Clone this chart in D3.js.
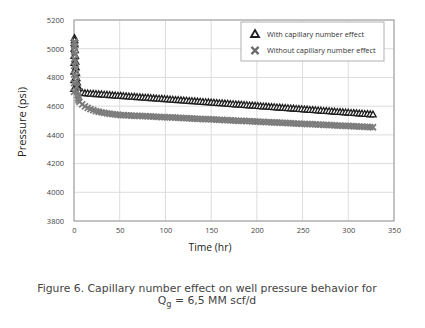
<!DOCTYPE html>
<html>
<head>
<meta charset="utf-8">
<script src="https://cdn.jsdelivr.net/npm/d3@7"></script>
<style>
  body { margin: 0; background: #fff; }
  svg { display: block; }
</style>
</head>
<body>
<svg></svg>
<script>

// data

const timeHr = [
  0, 0.05, 0.1, 0.15, 0.2, 0.3, 0.4, 0.5, 0.7, 0.9, 1.2, 1.5, 1.8, 2.2, 2.6, 3.0, 3.5, 4.0, 4.5, 5.0,
  6, 9, 12, 15, 18, 21, 24, 27, 30, 33, 36, 39, 42, 45, 48, 51, 54, 57, 60, 63, 66, 69, 72, 75, 78,
  81, 84, 87, 90, 93, 96, 99, 102, 105, 108, 111, 114, 117, 120, 123, 126, 129, 132, 135, 138, 141,
  144, 147, 150, 153, 156, 159, 162, 165, 168, 171, 174, 177, 180, 183, 186, 189, 192, 195, 198, 201,
  204, 207, 210, 213, 216, 219, 222, 225, 228, 231, 234, 237, 240, 243, 246, 249, 252, 255, 258, 261,
  264, 267, 270, 273, 276, 279, 282, 285, 288, 291, 294, 297, 300, 303, 306, 309, 312, 315, 318, 321,
  324, 327
];

const withCapillary = [
  4720, 4780, 4840, 4900, 4950, 5000, 5040, 5075, 5060, 5030, 4990, 4950, 4910, 4870, 4830, 4795, 4765, 4740, 4720, 4705,
  4700, 4694, 4690, 4689, 4687, 4686, 4684, 4683, 4682, 4680, 4679, 4677, 4676, 4674, 4673, 4672, 4670, 4669, 4667, 4666, 4665,
  4663, 4662, 4660, 4659, 4658, 4656, 4655, 4653, 4652, 4651, 4649, 4648, 4646, 4645, 4643, 4642, 4641, 4639, 4638, 4636,
  4635, 4634, 4632, 4631, 4629, 4628, 4627, 4625, 4624, 4622, 4621, 4620, 4618, 4617, 4615, 4614, 4612, 4611, 4610, 4608,
  4607, 4605, 4604, 4603, 4601, 4600, 4598, 4597, 4596, 4594, 4593, 4591, 4590, 4588, 4587, 4586, 4584, 4583, 4581, 4580,
  4579, 4577, 4576, 4574, 4573, 4572, 4570, 4569, 4567, 4566, 4565, 4563, 4562, 4560, 4559, 4557, 4556, 4555, 4553, 4552,
  4550, 4549, 4548, 4546, 4545, 4543, 4542
];

const withoutCapillary = [
  4700, 4760, 4820, 4880, 4930, 4980, 5020, 5050, 5040, 5010, 4960, 4910, 4860, 4810, 4770, 4735, 4700, 4675, 4655, 4640,
  4630, 4612, 4598, 4588, 4579, 4572, 4566, 4561, 4557, 4553, 4550, 4547, 4545, 4542, 4540, 4538, 4537, 4536, 4535, 4534, 4533,
  4532, 4532, 4531, 4530, 4529, 4528, 4527, 4526, 4525, 4524, 4523, 4522, 4521, 4521, 4520, 4519, 4518, 4517, 4516, 4515,
  4514, 4513, 4512, 4511, 4510, 4509, 4509, 4508, 4507, 4506, 4505, 4504, 4503, 4502, 4501, 4500, 4499, 4498, 4498, 4497,
  4496, 4495, 4494, 4493, 4492, 4491, 4490, 4489, 4488, 4487, 4486, 4486, 4485, 4484, 4483, 4482, 4481, 4480, 4479, 4478,
  4477, 4476, 4475, 4475, 4474, 4473, 4472, 4471, 4470, 4469, 4468, 4467, 4466, 4465, 4464, 4463, 4463, 4462, 4461, 4460,
  4459, 4458, 4457, 4456, 4455, 4454, 4453
];

const xTicks = [0, 50, 100, 150, 200, 250, 300, 350];
const yTicks = [3800, 4000, 4200, 4400, 4600, 4800, 5000, 5200];

const seriesNames = ['With capillary number effect', 'Without capillary number effect'];


// root svg

const W = 425, H = 328;
const plot = { left: 74, right: 394, top: 20, bottom: 221 };

const svg = d3.select('svg')
  .attr('width', W)
  .attr('height', H);

const font = "'Open Sans', sans-serif";

// scale a text's font size so that it spans the width
function fitWidth(sel, target) {
  const w = sel.node().getComputedTextLength();
  const fs = parseFloat(sel.style('font-size'));
  const size = fs * target / w;
  sel.style('font-size', size + 'px');
  return size;
}

const xScale = d3.scaleLinear()
  .domain([0, 350])
  .range([plot.left, plot.right]);

const yScale = d3.scaleLinear()
  .domain([3800, 5200])
  .range([plot.bottom, plot.top]);


// grid

const gridG = svg.append('g');

gridG.selectAll('line.vx')
  .data(xTicks)
  .enter()
    .append('line')
    .attr('x1', d => xScale(d))
    .attr('x2', d => xScale(d))
    .attr('y1', plot.top)
    .attr('y2', plot.bottom)
    .style('stroke', '#dcdcdc')
    .style('stroke-width', 1);

gridG.selectAll('line.hy')
  .data(yTicks)
  .enter()
    .append('line')
    .attr('x1', plot.left)
    .attr('x2', plot.right)
    .attr('y1', d => yScale(d))
    .attr('y2', d => yScale(d))
    .style('stroke', '#dcdcdc')
    .style('stroke-width', 1);

svg.append('rect')
  .attr('x', plot.left)
  .attr('y', plot.top)
  .attr('width', plot.right - plot.left)
  .attr('height', plot.bottom - plot.top)
  .style('fill', 'none')
  .style('stroke', '#9a9a9a')
  .style('stroke-width', 1);


// axes

const xAxis = d3.axisBottom(xScale)
  .tickValues(xTicks)
  .tickSize(0)
  .tickPadding(7);

const xAxisG = svg.append('g')
  .attr('transform', `translate(0,${plot.bottom})`)
  .call(xAxis);

const yAxis = d3.axisLeft(yScale)
  .tickValues(yTicks)
  .tickFormat(d3.format('d'))
  .tickSize(0)
  .tickPadding(10);

const yAxisG = svg.append('g')
  .attr('transform', `translate(${plot.left},0)`)
  .call(yAxis);

[xAxisG, yAxisG].forEach(g => {
  g.select('.domain').remove();
  g.selectAll('.tick text')
    .style('font-family', font)
    .style('font-size', '7.5px')
    .style('fill', '#444');
});

const xTitle = svg.append('text')
  .attr('x', 210)
  .attr('y', 251)
  .attr('text-anchor', 'middle')
  .style('font-family', font)
  .style('font-size', '11px')
  .style('fill', '#222')
  .text('Time (hr)');

fitWidth(xTitle, 43);

const yTitle = svg.append('text')
  .attr('transform', 'translate(26,122) rotate(-90)')
  .attr('text-anchor', 'middle')
  .style('font-family', font)
  .style('font-size', '11px')
  .style('fill', '#222')
  .text('Pressure (psi)');

fitWidth(yTitle, 70);


// markers

const triPath = 'M0,-3.4L3.2,2.4L-3.2,2.4Z';
const crossPath = 'M-3,-3L3,3M-3,3L3,-3';

const withData = timeHr.map((t, i) => ({ t, p: withCapillary[i] }));
const withoutData = timeHr.map((t, i) => ({ t, p: withoutCapillary[i] }));

svg.append('g')
  .selectAll('path')
  .data(withData)
  .enter()
    .append('path')
    .attr('d', triPath)
    .attr('transform', d => `translate(${xScale(d.t)},${yScale(d.p)})`)
    .style('fill', '#fff')
    .style('stroke', '#1e1e1e')
    .style('stroke-width', 1.3);

svg.append('g')
  .selectAll('path')
  .data(withoutData)
  .enter()
    .append('path')
    .attr('d', crossPath)
    .attr('transform', d => `translate(${xScale(d.t)},${yScale(d.p)})`)
    .style('fill', 'none')
    .style('stroke', '#7c7c7c')
    .style('stroke-width', 1.8);


// legend

const legendG = svg.append('g')
  .attr('transform', 'translate(241,22)');

legendG.append('rect')
  .attr('width', 143)
  .attr('height', 39)
  .style('fill', '#fff')
  .style('stroke', '#b0b0b0')
  .style('stroke-width', 1);

const legendTexts = [];

legendG.selectAll('g.item')
  .data(seriesNames)
  .enter()
    .append('g')
    .attr('class', 'item')
    .each(function(d, i) {
      const g = d3.select(this);
      const y = 12 + i * 16.5;

      if (i === 0) {
        g.append('path')
          .attr('d', 'M0,-4L4,3L-4,3Z')
          .attr('transform', `translate(14,${y})`)
          .style('fill', '#fff')
          .style('stroke', '#1e1e1e')
          .style('stroke-width', 1.8);
      } else {
        g.append('path')
          .attr('d', 'M-3.6,-3.6L3.6,3.6M-3.6,3.6L3.6,-3.6')
          .attr('transform', `translate(14,${y})`)
          .style('stroke', '#6a6a6a')
          .style('stroke-width', 2.2);
      }

      legendTexts.push(g.append('text')
        .attr('x', 26)
        .attr('y', y + 2.8)
        .style('font-family', font)
        .style('font-size', '7.5px')
        .style('fill', '#333')
        .text(d));
    });

const legendSize = fitWidth(legendTexts[1], 109);
legendTexts[0].style('font-size', legendSize + 'px');


// caption

const captionG = svg.append('g')
  .style('font-family', "'DejaVu Sans', sans-serif")
  .style('fill', '#444');

const cap1 = captionG.append('text')
  .attr('x', 207)
  .attr('y', 292)
  .attr('text-anchor', 'middle')
  .style('font-size', '10px')
  .text('Figure 6. Capillary number effect on well pressure behavior for');

const capSize = fitWidth(cap1, 340);

const cap2 = captionG.append('text')
  .attr('x', 207)
  .attr('y', 304)
  .attr('text-anchor', 'middle')
  .style('font-size', capSize + 'px');

cap2.append('tspan').text('Q');
cap2.append('tspan').text('g').attr('dy', 2.5).style('font-size', (capSize * 0.75) + 'px');
cap2.append('tspan').text(' = 6,5 MM scf/d').attr('dy', -2.5);

</script>
</body>
</html>
